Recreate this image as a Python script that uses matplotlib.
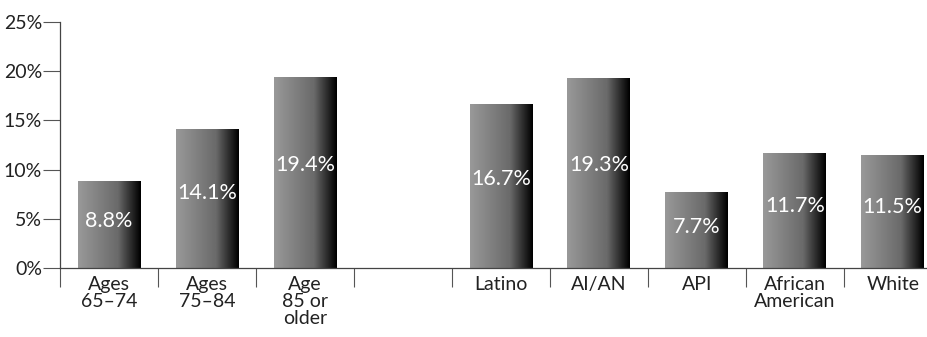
import numpy as np
import matplotlib.pyplot as plt
from matplotlib.patches import Rectangle

plt.rcParams['font.family'] = ['Lato', 'DejaVu Sans']

# data
labels = ['Ages\n65–74', 'Ages\n75–84', 'Age\n85 or\nolder', '',
          'Latino', 'AI/AN', 'API', 'African\nAmerican', 'White']
values = [8.8, 14.1, 19.4, None, 16.7, 19.3, 7.7, 11.7, 11.5]
yticks = [0, 5, 10, 15, 20, 25]

fig = plt.figure(figsize=(9.28, 3.37), dpi=100)
ax = fig.add_axes([60 / 928, 1 - 268 / 337, 1 - 60 / 928, (268 - 22) / 337])

x = np.arange(len(labels))
ax.set_xlim(-0.5, 8.36)
ax.set_ylim(0, 25)

# gradient texture for bars (grey on the left, black on the right)
grad = np.concatenate([np.linspace(0.6, 0.42, 40), np.linspace(0.42, 0.0, 24)])
grad = grad[None, :].repeat(4, axis=0)

w = 0.64
for xi, v in zip(x, values):
    if v is None:
        continue
    left = xi - w / 2
    rect = Rectangle((left, 0), w, v, facecolor='none', edgecolor='none')
    ax.add_patch(rect)
    im = ax.imshow(grad, cmap='gray', vmin=0, vmax=1, aspect='auto',
                   extent=(left, left + w, 0, v), zorder=2)
    im.set_clip_path(rect)
    ax.text(xi, v * 0.54, f'{v}%', color='white', ha='center', va='center',
            fontsize=15.5, zorder=3)

ax.set_yticks(yticks)
ax.set_yticklabels([f'{t}%' for t in yticks], fontsize=14, color='#222222')
ax.tick_params(axis='y', length=12, width=0.8, color='#555555', pad=1)

ax.set_xticks(x)
ax.set_xticklabels(labels, fontsize=14, color='#222222', linespacing=1.0, va='top')
ax.tick_params(axis='x', which='major', length=0, pad=6)
ax.set_xticks(np.arange(-0.5, 8.5, 1.0), minor=True)
ax.tick_params(axis='x', which='minor', length=14, width=0.8, color='#555555')

for s in ['top', 'right']:
    ax.spines[s].set_visible(False)
for s in ['left', 'bottom']:
    ax.spines[s].set_linewidth(0.9)
    ax.spines[s].set_color('#444444')

fig.savefig('out.png', dpi=100)
